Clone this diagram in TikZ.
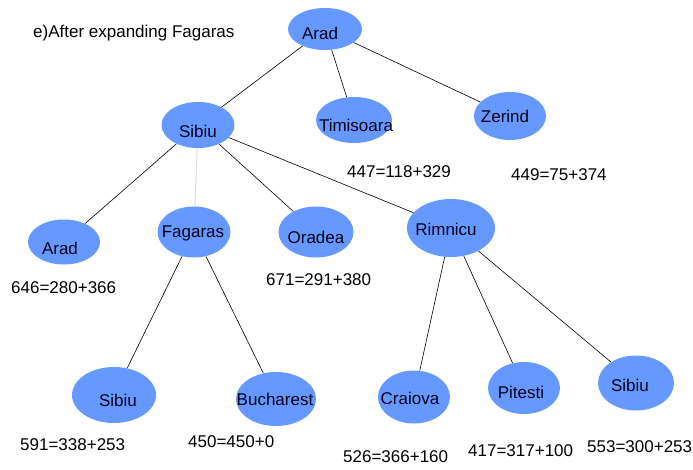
\documentclass[tikz,border=0pt]{standalone}
\usepackage{fontspec}
\setmainfont{Liberation Sans}
\usetikzlibrary{shapes.geometric}
\definecolor{cityblue}{RGB}{102,153,255}
\definecolor{faintgray}{RGB}{220,220,220}
\begin{document}
\begin{tikzpicture}[x=1pt,y=-1pt,
  city/.style={ellipse, fill=cityblue, draw=none, inner sep=0pt},
  citytext/.style={inner sep=0pt, font=\fontsize{17}{19}\selectfont, text=black!90!blue},
  costtext/.style={inner sep=0pt, font=\fontsize{17}{19}\selectfont, anchor=west},
  treelink/.style={draw=black, line width=0.6pt},
  faintlink/.style={draw=faintgray, line width=1pt}]
\useasboundingbox (0,0) rectangle (693,469);

% title
\node[costtext] (title) at (33,33) {e)After expanding Fagaras};

% tree nodes (ellipses)
\node[city, minimum width=74pt, minimum height=42pt] (arad)  at (325,29)  {};
\node[city, minimum width=73pt, minimum height=46pt] (sibiu) at (198,125) {};
\node[city, minimum width=76pt, minimum height=46pt] (timi)  at (354,120) {};
\node[city, minimum width=72pt, minimum height=48pt] (zer)   at (510,116) {};
\node[city, minimum width=72pt, minimum height=45pt] (aradb) at (64,242)  {};
\node[city, minimum width=73pt, minimum height=51pt] (fag)   at (194,232) {};
\node[city, minimum width=75pt, minimum height=51pt] (ora)   at (316,232) {};
\node[city, minimum width=88pt, minimum height=58pt] (rim)   at (451,228) {};
\node[city, minimum width=84pt, minimum height=56pt] (sibb)  at (114,395) {};
\node[city, minimum width=80pt, minimum height=54pt] (buc)   at (276,399) {};
\node[city, minimum width=72pt, minimum height=53pt] (cra)   at (414,397) {};
\node[city, minimum width=72pt, minimum height=52pt] (pit)   at (524,388) {};
\node[city, minimum width=76pt, minimum height=55pt] (sibc)  at (636,383) {};

% city names
\node[citytext] (t-arad)  at (320,33)  {Arad};
\node[citytext] (t-sibiu) at (198,131) {Sibiu};
\node[citytext] (t-timi)  at (356,125) {Timisoara};
\node[citytext] (t-zer)   at (505,116) {Zerind};
\node[citytext] (t-aradb) at (60,248)  {Arad};
\node[citytext] (t-fag)   at (193,233) {Fagaras};
\node[citytext] (t-ora)   at (316,237) {Oradea};
\node[citytext] (t-rim)   at (446,229) {Rimnicu};
\node[citytext] (t-sibb)  at (118,400) {Sibiu};
\node[citytext] (t-buc)   at (275,399) {Bucharest};
\node[citytext] (t-cra)   at (410,398) {Craiova};
\node[citytext] (t-pit)   at (521,392) {Pitesti};
\node[citytext] (t-sibc)  at (630,385) {Sibiu};

% connectors
\draw[treelink]  (arad) -- (sibiu);
\draw[treelink]  (arad) -- (timi);
\draw[treelink]  (arad) -- (zer);
\draw[treelink]  (sibiu) -- (aradb);
\draw[faintlink] (sibiu) -- (fag);
\draw[treelink]  (sibiu) -- (ora);
\draw[treelink]  (sibiu) -- (rim);
\draw[treelink]  (fag) -- (sibb);
\draw[treelink]  (fag) -- (buc);
\draw[treelink]  (rim) -- (cra);
\draw[treelink]  (rim) -- (pit);
\draw[treelink]  (rim) -- (sibc);

% f = g + h values
\node[costtext] (f-rim)   at (347,172) {447=118+329};
\node[costtext] (f-zer)   at (511,175) {449=75+374};
\node[costtext] (f-aradb) at (11,288)  {646=280+366};
\node[costtext] (f-ora)   at (266,280) {671=291+380};
\node[costtext] (f-sibb)  at (20,445)  {591=338+253};
\node[costtext] (f-buc)   at (188,442) {450=450+0};
\node[costtext] (f-cra)   at (343,457) {526=366+160};
\node[costtext] (f-pit)   at (468,451) {417=317+100};
\node[costtext] (f-sibc)  at (587,447) {553=300+253};
\end{tikzpicture}
\end{document}
